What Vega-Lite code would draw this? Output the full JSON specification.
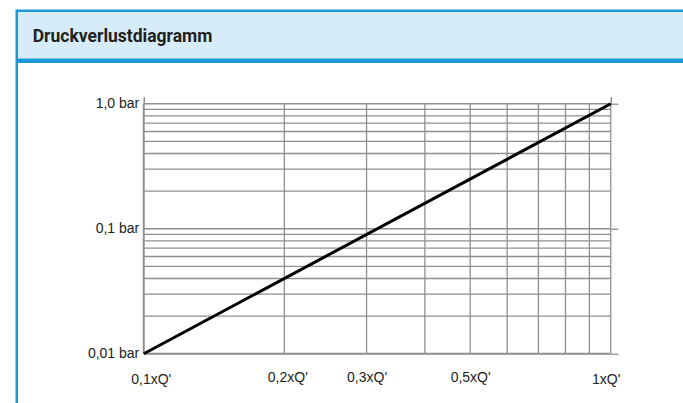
{
  "$schema": "https://vega.github.io/schema/vega-lite/v6.json",
  "background": "white",
  "padding": {"left": 14.75, "top": 8.75, "right": 0, "bottom": 0},
  "spacing": -2.5,
  "config": {
    "font": "Liberation Sans",
    "axis": {"labelFont": "Liberation Sans", "labelColor": "#222222", "labelFontSize": 14, "title": null}
  },
  "datasets": {
    "kopf": [{"Titel": "Druckverlustdiagramm"}],
    "vgrid": [{"Q": 0.1}, {"Q": 0.2}, {"Q": 0.3}, {"Q": 0.4}, {"Q": 0.5}, {"Q": 0.6}, {"Q": 0.7}, {"Q": 0.8}, {"Q": 0.9}, {"Q": 1.0}],
    "hgrid": [{"dp": 0.01}, {"dp": 0.02}, {"dp": 0.03}, {"dp": 0.04}, {"dp": 0.05}, {"dp": 0.06}, {"dp": 0.07}, {"dp": 0.08}, {"dp": 0.09},
              {"dp": 0.1}, {"dp": 0.2}, {"dp": 0.3}, {"dp": 0.4}, {"dp": 0.5}, {"dp": 0.6}, {"dp": 0.7}, {"dp": 0.8}, {"dp": 0.9}, {"dp": 1.0}],
    "kurve": [{"Q": 0.1, "dp": 0.01}, {"Q": 1.0, "dp": 1.0}]
  },
  "vconcat": [
    {
      "width": 700,
      "height": 49,
      "view": {"fill": "#d6ecf8", "stroke": "#1b98d5", "strokeWidth": 2.5},
      "data": {"name": "kopf"},
      "mark": {
        "type": "text", "align": "left", "baseline": "middle", "dx": 16, "dy": 2,
        "font": "Roboto", "fontSize": 17.5, "fontWeight": "bold", "color": "#231f20"
      },
      "encoding": {
        "text": {"field": "Titel", "type": "nominal"},
        "x": {"datum": 0, "type": "quantitative", "scale": {"domain": [0, 1], "nice": false}, "axis": null}
      }
    },
    {
      "width": 700,
      "height": 360,
      "view": {"stroke": "#1b98d5", "strokeWidth": 2.5, "fill": null},
      "resolve": {"axis": {"x": "independent", "y": "independent"}},
      "layer": [
        {
          "data": {"name": "vgrid"},
          "mark": {"type": "rule", "color": "#8f8f8f"},
          "encoding": {
            "x": {
              "field": "Q", "type": "quantitative",
              "scale": {"type": "log", "domain": [0.1, 1], "range": [127, 594], "nice": false},
              "axis": {
                "orient": "bottom", "offset": -68, "values": [0.1, 0.2, 0.3, 0.5, 1],
                "domain": false, "ticks": false, "grid": false,
                "labelBaseline": "alphabetic", "labelFlush": false, "labelOverlap": false,
                "labelPadding": {"condition": [{"test": "datum.value < 0.15", "value": 29.5}, {"test": "datum.value > 0.99", "value": 30}], "value": 28},
                "labelOffset": {"condition": [{"test": "datum.value < 0.15", "value": 7}, {"test": "datum.value < 0.25", "value": 3}, {"test": "datum.value > 0.99", "value": -5}], "value": 0},
                "labelExpr": "datum.value > 0.99 ? \"1xQ'\" : \"0,\" + round(datum.value * 10) + \"xQ'\""
              }
            },
            "y": {
              "datum": 0.01, "type": "quantitative",
              "scale": {"type": "log", "domain": [0.01, 1], "range": [292, 42], "nice": false},
              "axis": {
                "orient": "left", "offset": -127, "values": [0.01, 0.1, 1],
                "domain": false, "ticks": false, "grid": false,
                "labelBaseline": "middle", "labelPadding": 5, "labelOverlap": false,
                "labelExpr": "datum.value > 0.5 ? '1,0 bar' : datum.value > 0.05 ? '0,1 bar' : '0,01 bar'"
              }
            },
            "y2": {"datum": 1},
            "strokeWidth": {"condition": {"test": "datum.Q < 0.15", "value": 2}, "value": 1.3}
          }
        },
        {
          "data": {"name": "hgrid"},
          "mark": {"type": "rule", "color": "#8f8f8f"},
          "encoding": {
            "y": {
              "field": "dp", "type": "quantitative",
              "axis": {
                "orient": "right", "offset": -106, "values": [0.01, 0.1, 1],
                "domain": false, "labels": false, "grid": false,
                "ticks": true, "tickSize": 7, "tickColor": "#8f8f8f", "tickWidth": 1.3
              }
            },
            "x": {
              "datum": 0.1, "type": "quantitative",
              "axis": {
                "orient": "top", "offset": -42, "values": [0.1, 1],
                "domain": false, "labels": false, "grid": false,
                "ticks": true, "tickSize": 7, "tickColor": "#8f8f8f", "tickWidth": 1.5
              }
            },
            "x2": {"datum": 1},
            "strokeWidth": {"condition": {"test": "datum.dp < 0.015", "value": 1.8}, "value": 1.3}
          }
        },
        {
          "data": {"name": "kurve"},
          "mark": {"type": "line", "color": "#000000", "strokeWidth": 3, "strokeCap": "butt"},
          "encoding": {
            "x": {"field": "Q", "type": "quantitative", "axis": null},
            "y": {"field": "dp", "type": "quantitative", "axis": null}
          }
        }
      ]
    }
  ]
}
